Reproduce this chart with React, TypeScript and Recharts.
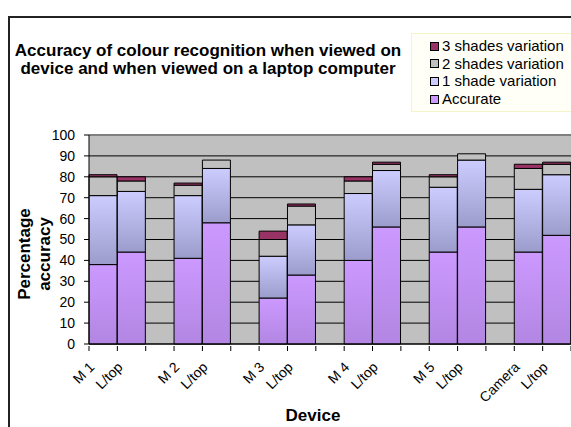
import { Bar, BarChart, CartesianGrid, Label, Legend, ReferenceLine, XAxis, YAxis } from "recharts"

const devices = ["M 1", "L/top", "", "M 2", "L/top", "", "M 3", "L/top", "", "M 4", "L/top", "", "M 5", "L/top", "", "Camera", "L/top"]
const accurate = [38, 44, null, 41, 58, null, 22, 33, null, 40, 56, null, 44, 56, null, 44, 52]
const oneShade = [33, 29, null, 30, 26, null, 20, 24, null, 32, 27, null, 31, 32, null, 30, 29]
const twoShades = [9, 5, null, 5, 4, null, 8, 9, null, 6, 3, null, 5, 3, null, 10, 5]
const threeShades = [1, 2, null, 1, null, null, 4, 1, null, 2, 1, null, 1, null, null, 2, 1]
const yTicks = [0, 10, 20, 30, 40, 50, 60, 70, 80, 90, 100]

const FONT = "'Liberation Sans', Arial, sans-serif"
const SLOT = 482 / devices.length

const data = devices.map((name, i) => ({
	name,
	accurate: accurate[i],
	oneShade: oneShade[i],
	twoShades: twoShades[i],
	threeShades: threeShades[i],
}))

const series = [
	{ key: "accurate", name: "Accurate", fill: "url(#gAccurate)", swatch: "#cc99ff" },
	{ key: "oneShade", name: "1 shade variation", fill: "url(#gOneShade)", swatch: "#ccccff" },
	{ key: "twoShades", name: "2 shades variation", fill: "#c0c0c0", swatch: "#c0c0c0" },
	{ key: "threeShades", name: "3 shades variation", fill: "#993366", swatch: "#993366" },
]

function DeviceTick(props: any) {
	const { x, y, payload, index } = props
	const last = index === devices.length - 1
	return (
		<g>
			<line x1={x - SLOT / 2} y1={y} x2={x - SLOT / 2} y2={y + 5} stroke="#000" />
			{last && <line x1={x + SLOT / 2} y1={y} x2={x + SLOT / 2} y2={y + 5} stroke="#000" />}
			<g transform={`translate(${x - 8}, ${y + 22}) rotate(-45)`}>
				<text x={0} y={0} textAnchor="end" fontSize={14} fontFamily={FONT} fill="#000">
					{payload.value}
				</text>
			</g>
		</g>
	)
}

function LegendBox() {
	return (
		<div
			style={{
				background: "#fffff8",
				border: "1px solid #f4f4c8",
				padding: "3px 0 3px 18px",
				fontFamily: FONT,
				fontSize: 15,
				color: "#000",
			}}
		>
			{[...series].reverse().map((s) => (
				<div key={s.key} style={{ height: 17.7, lineHeight: "17.7px", whiteSpace: "nowrap" }}>
					<span
						style={{
							display: "inline-block",
							width: 7,
							height: 7,
							background: s.swatch,
							border: "1px solid #000",
							marginRight: 3,
							verticalAlign: "middle",
							position: "relative",
							top: -1,
						}}
					/>
					{s.name}
				</div>
			))}
		</div>
	)
}

function YTitle() {
	return (
		<text
			transform="rotate(-90, 30, 254)"
			x={30}
			y={254}
			textAnchor="middle"
			fontSize={17}
			fontWeight="bold"
			fontFamily={FONT}
			fill="#000"
		>
			<tspan x={30} dy={0}>Percentage</tspan>
			<tspan x={30} dy={20}>accuracy</tspan>
		</text>
	)
}

function XTitle() {
	return (
		<text x={313} y={421} textAnchor="middle" fontSize={17} fontWeight="bold" fontFamily={FONT} fill="#000">
			Device
		</text>
	)
}

export default function App() {
	return (
		<div style={{ position: "absolute", left: 0, top: 0, width: 571, height: 427, overflow: "hidden", background: "#fff" }}>
			<div
				style={{
					position: "absolute",
					left: 8,
					top: 16,
					width: 600,
					height: 450,
					border: "2px solid #222",
					boxSizing: "border-box",
				}}
			/>
			<div
				style={{
					position: "absolute",
					left: 8,
					top: 42,
					width: 400,
					textAlign: "center",
					fontFamily: FONT,
					fontSize: 17,
					fontWeight: "bold",
					lineHeight: "18px",
					color: "#000",
					whiteSpace: "nowrap",
				}}
			>
				Accuracy of colour recognition when viewed on
				<br />
				device and when viewed on a laptop computer
			</div>
			<BarChart
				width={571}
				height={427}
				data={data}
				margin={{ top: 135, right: 0, left: 29, bottom: 0 }}
				barCategoryGap={0}
				style={{ position: "absolute", left: 0, top: 0 }}
			>
				<defs>
					<linearGradient id="gAccurate" x1="0" y1="0" x2="0" y2="1">
						<stop offset="0%" stopColor="#cc99ff" />
						<stop offset="100%" stopColor="#b286e2" />
					</linearGradient>
					<linearGradient id="gOneShade" x1="0" y1="0" x2="0" y2="1">
						<stop offset="0%" stopColor="#ccccff" />
						<stop offset="100%" stopColor="#9c9ccc" />
					</linearGradient>
				</defs>
				<CartesianGrid vertical={false} stroke="#000" fill="#c0c0c0" fillOpacity={1} />
				<XAxis
					dataKey="name"
					height={83}
					interval={0}
					tickLine={false}
					tickSize={0}
					axisLine={{ stroke: "#000" }}
					tick={<DeviceTick />}
				>
					<Label content={<XTitle />} />
				</XAxis>
				<YAxis
					width={60}
					domain={[0, 100]}
					ticks={yTicks}
					interval={0}
					tickSize={5}
					tickMargin={9}
					axisLine={{ stroke: "#000" }}
					tickLine={{ stroke: "#000" }}
					tick={{ fontSize: 14, fill: "#000", fontFamily: FONT }}
				>
					<Label content={<YTitle />} />
				</YAxis>
				<ReferenceLine y={100} stroke="#808080" strokeWidth={2} />
				<Legend
					layout="vertical"
					align="center"
					verticalAlign="middle"
					content={<LegendBox />}
					wrapperStyle={{ position: "absolute", left: 411, top: 33, width: 170, height: "auto" }}
				/>
				{series.map((s) => (
					<Bar
						key={s.key}
						dataKey={s.key}
						name={s.name}
						stackId="a"
						fill={s.fill}
						stroke="#000"
						strokeWidth={1}
						isAnimationActive={false}
					/>
				))}
			</BarChart>
		</div>
	)
}
